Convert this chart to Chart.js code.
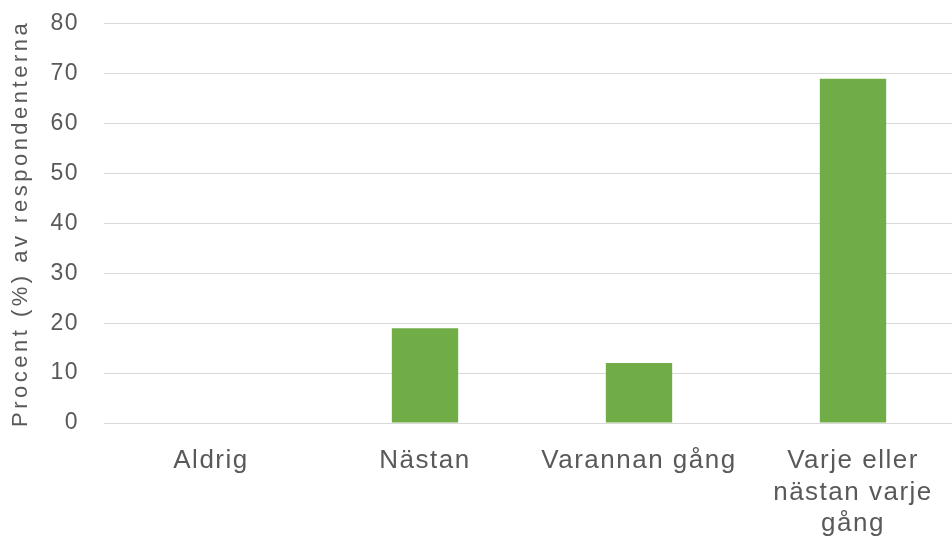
<!DOCTYPE html>
<html>
<head>
<meta charset="utf-8">
<script src="https://cdn.jsdelivr.net/npm/chart.js@4"></script>
<style>
  html, body { margin: 0; padding: 0; background: #fff; overflow: hidden; }
  /* flyttar upp canvasen lite så att 80-linjen hamnar nära överkanten */
  #wrap { width: 960px; height: 559px; position: absolute; left: 0; top: -15px; }
</style>
</head>
<body>
<div id="wrap"><canvas id="chart"></canvas></div>
<script>
// svarsalternativ och andel (%)
let categories = ['Aldrig', 'Nästan', 'Varannan gång', ['Varje eller', 'nästan varje', 'gång']];
let values = [0, 19, 12, 69];
let yTitle = 'Procent (%) av respondenterna';
let yMax = 80;
let yStep = 10;

let textColor = '#595959';
let fontFamily = 'Liberation Sans, Arial, sans-serif';

// originalet har lite luftigare text, så vi sätter letterSpacing på canvasen
let spacingPlugin = {
    id: 'spacing',
    beforeLayout(chart) { chart.ctx.letterSpacing = '1.5px'; },
    beforeDraw(chart) {
        chart.ctx.letterSpacing = '1.5px';
        let y = chart.scales.y;
        if (!y._wrapped) {
            let orig = y.drawTitle.bind(y);
            y.drawTitle = function () {
                chart.ctx.save();
                chart.ctx.letterSpacing = '3.5px';
                orig();
                chart.ctx.restore();
            };
            y._wrapped = true;
        }
    }
};

let ctx = document.getElementById('chart').getContext('2d');
let chart = new Chart(ctx, {
    type: 'bar',
    data: {
        labels: categories,
        datasets: [{
            data: values,
            backgroundColor: '#70ad47',
            borderWidth: 0,
            barPercentage: 0.31,
            categoryPercentage: 1
        }]
    },
    plugins: [spacingPlugin],
    options: {
        responsive: true,
        maintainAspectRatio: false,
        animation: false,
        layout: { padding: { top: 0, left: 0, right: 0, bottom: 0 } },
        plugins: {
            legend: { display: false },
            tooltip: { enabled: false }
        },
        scales: {
            x: {
                grid: { display: false },
                border: { display: false },
                afterFit(scale) { scale.height = 121; },
                ticks: {
                    color: textColor,
                    font: { family: fontFamily, size: 26, lineHeight: 1.22 },
                    padding: 14,
                    maxRotation: 0,
                    autoSkip: false
                }
            },
            y: {
                min: 0,
                max: yMax,
                afterFit(scale) { scale.width = 104; },
                grid: { color: '#d9d9d9', lineWidth: 1, drawTicks: false },
                border: { display: false },
                ticks: {
                    stepSize: yStep,
                    color: textColor,
                    font: { family: fontFamily, size: 23 },
                    padding: 25
                },
                title: {
                    display: true,
                    text: yTitle,
                    color: textColor,
                    font: { family: fontFamily, size: 22 },
                    padding: { top: 8, bottom: 0 }
                }
            }
        }
    }
});
</script>
</body>
</html>
